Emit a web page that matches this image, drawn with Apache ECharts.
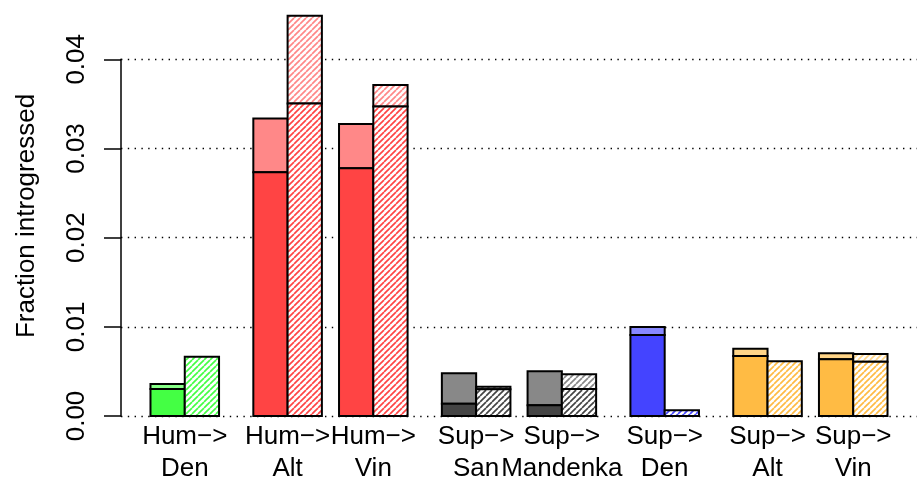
<!DOCTYPE html>
<html>
<head>
<meta charset="utf-8">
<script src="https://cdn.jsdelivr.net/npm/echarts@6/dist/echarts.min.js"></script>
<style>
html,body{margin:0;padding:0;background:#fff;}
#chart{width:917px;height:478px;}
</style>
</head>
<body>
<div id="chart"></div>
<script>
// ---- data ----
var categories = ["Hum\u2212>\nDen", "Hum\u2212>\nAlt", "Hum\u2212>\nVin", "Sup\u2212>\nSan", "Sup\u2212>\nMandenka", "Sup\u2212>\nDen", "Sup\u2212>\nAlt", "Sup\u2212>\nVin"];
var solidLower = [0.00303, 0.02732, 0.02777, 0.00138, 0.00120, 0.00908, 0.00673, 0.00635];
var solidTotal = [0.00359, 0.03337, 0.03274, 0.00478, 0.00501, 0.00998, 0.00755, 0.00703];
var hatchLower = [0.00665, 0.03505, 0.03472, 0.00299, 0.00303, 0.00064, 0.00613, 0.00609];
var hatchTotal = [0.00665, 0.04488, 0.03711, 0.00329, 0.00467, 0.00064, 0.00613, 0.00695];

// ---- layout / style ----
var groupGap = [0, 1, 0.5, 1, 0.5, 1, 1, 0.5]; // space before each group, in bar widths
var darkColors  = ["#44FF44", "#FF4444", "#FF4444", "#444444", "#444444", "#4444FF", "#FFBB44", "#FFBB44"];
var lightColors = ["#88FF88", "#FF8888", "#FF8888", "#888888", "#888888", "#8888FF", "#FFD588", "#FFD588"];

var starts = [];
var acc = 0;
for (var i = 0; i < categories.length; i++) {
  acc += groupGap[i];
  starts.push(acc);
  acc += 2;
}
var span = acc;
var xMin = -0.04 * span, xMax = span + 0.04 * span;

var patternCache = {};
function hatch(color) {
  if (patternCache[color]) return patternCache[color];
  var s = 6;
  var c = document.createElement('canvas');
  c.width = s; c.height = s;
  var ctx = c.getContext('2d');
  ctx.fillStyle = '#ffffff';
  ctx.fillRect(0, 0, s, s);
  ctx.strokeStyle = color;
  ctx.lineWidth = 1.7;
  for (var k = -1; k <= 1; k++) {
    ctx.beginPath();
    ctx.moveTo(k * s, s);
    ctx.lineTo(k * s + s, 0);
    ctx.stroke();
  }
  var p = {image: c, repeat: 'repeat'};
  patternCache[color] = p;
  return p;
}

var seriesData = [];
for (var i = 0; i < categories.length; i++) {
  seriesData.push([starts[i], solidLower[i], solidTotal[i], hatchLower[i], hatchTotal[i]]);
}

var FONT = '"Liberation Sans", Arial, Helvetica, sans-serif';
var FS = 26;

var chart = echarts.init(document.getElementById('chart'), null, {renderer: 'canvas'});
chart.setOption({
  backgroundColor: '#ffffff',
  animation: false,
  grid: {left: 121, right: -5, top: 59.3, bottom: 62, containLabel: false},
  xAxis: {type: 'value', min: xMin, max: xMax, show: false},
  yAxis: {
    type: 'value', min: 0, max: 0.04, interval: 0.01,
    axisLine: {show: true, onZero: false, lineStyle: {color: '#000', width: 1.5}},
    axisTick: {show: true, length: 17, lineStyle: {color: '#000', width: 1.5}},
    axisLabel: {
      rotate: 90, margin: 31, color: '#000', fontSize: FS, fontFamily: FONT,
      formatter: function (v) { return v.toFixed(2); }
    },
    splitLine: {show: true, lineStyle: {color: '#000', width: 1.4, type: [1.4, 5.4]}}
  },
  graphic: [{
    type: 'text', x: 27, y: 216, rotation: Math.PI / 2,
    style: {text: 'Fraction introgressed', fill: '#000', font: FS + 'px ' + FONT, align: 'center', verticalAlign: 'middle'}
  }],
  series: [{
    type: 'custom',
    clip: false,
    data: seriesData,
    renderItem: function (params, api) {
      var i = params.dataIndex;
      var s = api.value(0);
      var children = [];
      function box(x0, x1, v0, v1, fill) {
        var p0 = api.coord([x0, v0]);
        var p1 = api.coord([x1, v1]);
        return {
          type: 'rect',
          shape: {x: p0[0], y: p1[1], width: p1[0] - p0[0], height: p0[1] - p1[1]},
          style: {fill: fill, stroke: '#000', lineWidth: 2}
        };
      }
      var sl = api.value(1), st = api.value(2), hl = api.value(3), ht = api.value(4);
      children.push(box(s, s + 1, sl, st, lightColors[i]));
      children.push(box(s, s + 1, 0, sl, darkColors[i]));
      if (ht > hl) children.push(box(s + 1, s + 2, hl, ht, hatch(lightColors[i])));
      children.push(box(s + 1, s + 2, 0, hl, hatch(darkColors[i])));
      var c = api.coord([s + 1, 0]);
      children.push({
        type: 'text',
        x: c[0], y: c[1] + 5,
        style: {text: categories[i], fill: '#000', font: FS + 'px ' + FONT, align: 'center', verticalAlign: 'top', lineHeight: 32}
      });
      return {type: 'group', children: children};
    }
  }]
});
</script>
</body>
</html>
